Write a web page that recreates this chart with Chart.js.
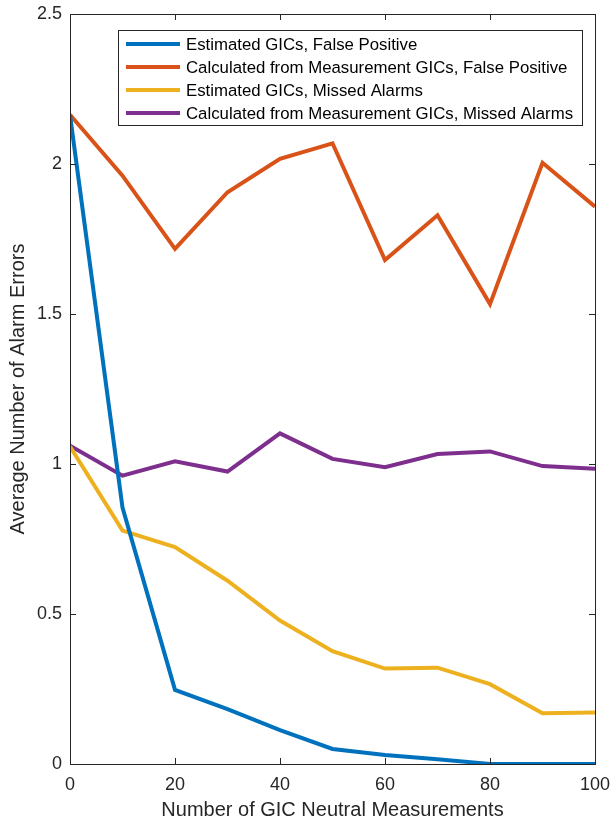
<!DOCTYPE html>
<html>
<head>
<meta charset="utf-8">
<title>Average Number of Alarm Errors</title>
<script src="https://cdn.jsdelivr.net/npm/chart.js@4"></script>
<style>
  html, body { margin: 0; padding: 0; background: #fff; }
  canvas { display: block; }
</style>
</head>
<body>
<canvas id="chart" width="610" height="822"></canvas>
<script>
// Number of GIC neutral measurements (x axis)
const measurements = [0, 10, 20, 30, 40, 50, 60, 70, 80, 90, 100];

// Average alarm errors per case
const estFalsePositive  = [2.163, 0.855, 0.247, 0.183, 0.113, 0.050, 0.030, 0.016, 0.000, 0.000, 0.000];
const calcFalsePositive = [2.164, 1.961, 1.717, 1.906, 2.017, 2.069, 1.680, 1.829, 1.533, 2.004, 1.858];
const estMissed         = [1.058, 0.778, 0.723, 0.611, 0.478, 0.376, 0.318, 0.321, 0.266, 0.169, 0.172];
const calcMissed        = [1.061, 0.961, 1.009, 0.975, 1.102, 1.017, 0.989, 1.033, 1.042, 0.993, 0.984];

const seriesLabels = [
  "Estimated GICs, False Positive",
  "Calculated from Measurement GICs, False Positive",
  "Estimated GICs, Missed Alarms",
  "Calculated from Measurement GICs, Missed Alarms",
];
const seriesColors = ["#0072BD", "#D95319", "#EDB120", "#7E2F8E"];

const xTicks = [0, 20, 40, 60, 80, 100];
const yTicks = [0, 0.5, 1, 1.5, 2, 2.5];

const FONT = "'Liberation Sans', Arial, Helvetica, sans-serif";
const AXIS_COLOR = "#262626";

function toPoints(values) {
  return values.map((v, i) => ({ x: measurements[i], y: v }));
}

// keep tick labels from pushing the plot area inward
function noOverflow(s) {
  s.paddingLeft = 0; s.paddingRight = 0; s.paddingTop = 0; s.paddingBottom = 0;
}

// Box around the plot area with inward ticks on all four sides
const boxPlugin = {
  id: "box",
  afterDatasetsDraw(chart) {
    const { ctx, chartArea: a, scales } = chart;
    const len = 6;
    ctx.save();
    ctx.strokeStyle = AXIS_COLOR;
    ctx.lineWidth = 1;
    ctx.beginPath();
    xTicks.forEach((t) => {
      const px = Math.round(scales.x.getPixelForValue(t)) + 0.5;
      ctx.moveTo(px, a.bottom); ctx.lineTo(px, a.bottom - len);
      ctx.moveTo(px, a.top); ctx.lineTo(px, a.top + len);
    });
    yTicks.forEach((t) => {
      const py = Math.round(scales.y.getPixelForValue(t)) + 0.5;
      ctx.moveTo(a.left, py); ctx.lineTo(a.left + len, py);
      ctx.moveTo(a.right, py); ctx.lineTo(a.right - len, py);
    });
    ctx.stroke();
    ctx.strokeRect(Math.round(a.left) + 0.5, Math.round(a.top) + 0.5,
      Math.round(a.right - a.left), Math.round(a.bottom - a.top));
    ctx.restore();
  },
};

// Legend drawn inside the top-right corner of the axes
const insideLegend = {
  id: "insideLegend",
  afterDraw(chart) {
    const { ctx } = chart;
    const x0 = 118, y0 = 30, w = 464, h = 95;
    ctx.save();
    ctx.fillStyle = "#fff";
    ctx.fillRect(x0, y0, w, h);
    ctx.strokeStyle = AXIS_COLOR;
    ctx.lineWidth = 1;
    ctx.strokeRect(x0 + 0.5, y0 + 0.5, w, h);
    ctx.font = "16.8px " + FONT;
    ctx.textBaseline = "middle";
    chart.data.datasets.forEach((ds, i) => {
      const cy = y0 + 14 + i * 23;
      ctx.strokeStyle = ds.borderColor;
      ctx.lineWidth = 4;
      ctx.beginPath();
      ctx.moveTo(x0 + 8, cy);
      ctx.lineTo(x0 + 62, cy);
      ctx.stroke();
      ctx.fillStyle = "#000";
      ctx.fillText(ds.label, x0 + 68, cy + 1);
    });
    ctx.restore();
  },
};

new Chart(document.getElementById("chart"), {
  type: "line",
  data: {
    datasets: [estFalsePositive, calcFalsePositive, estMissed, calcMissed].map((vals, i) => ({
      label: seriesLabels[i],
      data: toPoints(vals),
      borderColor: seriesColors[i],
      backgroundColor: seriesColors[i],
      borderWidth: 4,
      pointRadius: 0,
      tension: 0,
      fill: false,
      borderJoinStyle: "miter",
    })),
  },
  options: {
    responsive: false,
    animation: false,
    layout: { padding: { top: 14, right: 15, left: 0, bottom: 0 } },
    plugins: {
      legend: { display: false },
      tooltip: { enabled: false },
    },
    scales: {
      x: {
        type: "linear",
        min: 0,
        max: 100,
        afterBuildTicks: (s) => { s.ticks = xTicks.map((v) => ({ value: v })); },
        afterFit: (s) => { s.height = 58; noOverflow(s); },
        grid: { display: false, drawTicks: false },
        border: { display: false },
        ticks: { color: AXIS_COLOR, padding: 10, maxRotation: 0, font: { family: FONT, size: 18 } },
        title: {
          display: true,
          text: "Number of GIC Neutral Measurements",
          color: AXIS_COLOR,
          padding: { top: 0, bottom: 0 },
          font: { family: FONT, size: 20 },
        },
      },
      y: {
        min: 0,
        max: 2.5,
        afterBuildTicks: (s) => { s.ticks = yTicks.map((v) => ({ value: v })); },
        afterFit: (s) => { s.width = 70; noOverflow(s); },
        grid: { display: false, drawTicks: false },
        border: { display: false },
        ticks: {
          color: AXIS_COLOR,
          padding: 8,
          font: { family: FONT, size: 18 },
          callback: (v) => String(v),
        },
        title: {
          display: true,
          text: "Average Number of Alarm Errors",
          color: AXIS_COLOR,
          padding: { top: 6, bottom: 0 },
          font: { family: FONT, size: 20 },
        },
      },
    },
  },
  plugins: [boxPlugin, insideLegend],
});
</script>
</body>
</html>
